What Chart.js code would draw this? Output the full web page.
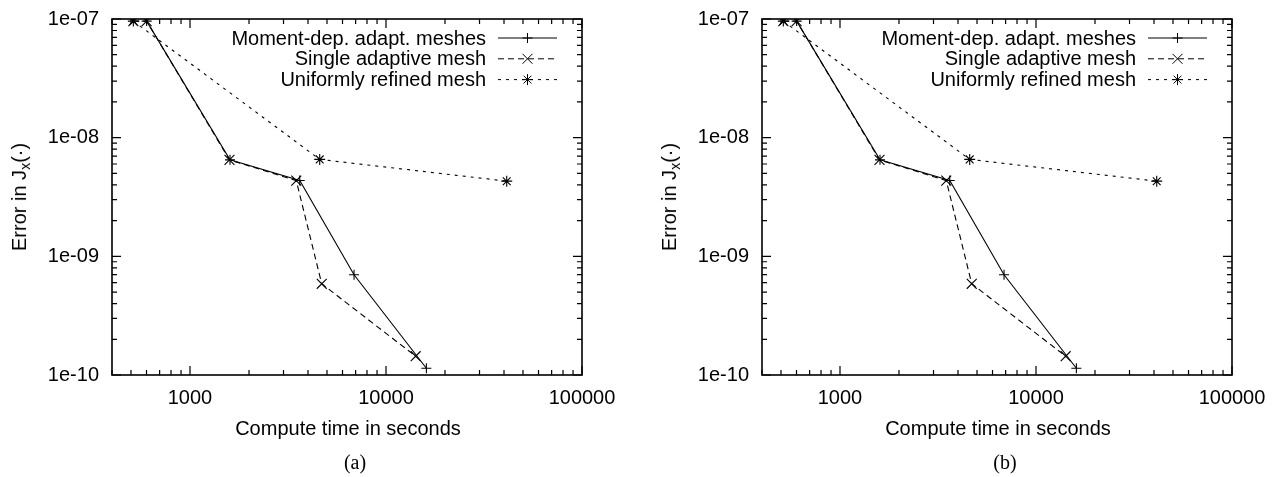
<!DOCTYPE html>
<html>
<head>
<meta charset="utf-8">
<title>Error vs compute time</title>
<script src="https://cdn.jsdelivr.net/npm/chart.js@4.4.1/dist/chart.umd.min.js"></script>
<style>
  body { margin: 0; background: #fff; font-family: 'Liberation Sans', Arial, Helvetica, sans-serif; color: #000; }
  #page { position: relative; width: 1278px; height: 477px; overflow: hidden; background: #fff; }
  .panel { position: absolute; top: 0; width: 628px; height: 477px; }
  .panel canvas { position: absolute; left: 0; top: 0; }
  .ytitle { position: absolute; left: 19px; top: 197px; transform: translate(-50%, -50%) rotate(-90deg); white-space: nowrap; font-size: 20px; line-height: 24px; }
  .ytitle sub { font-size: 14px; vertical-align: -4px; line-height: 0; }
  .xtitle { position: absolute; left: 348px; top: 428px; transform: translate(-50%, -50%); white-space: nowrap; font-size: 20px; line-height: 24px; }
  .caption { position: absolute; left: 355px; top: 462px; transform: translate(-50%, -50%); font-family: 'Liberation Serif', 'Times New Roman', serif; font-size: 20px; line-height: 24px; }
</style>
</head>
<body>
<div id="page"></div>
<script>
// Values (both panels show the same curves)
const seriesNames = ['Moment-dep. adapt. meshes', 'Single adaptive mesh', 'Uniformly refined mesh'];
const momentTime = [601, 1600, 3630, 6870, 16070];
const momentError = [9.6e-8, 6.5e-9, 4.35e-9, 7.0e-10, 1.14e-10];
const singleTime = [514, 601, 1590, 3485, 4700, 14170];
const singleError = [9.6e-8, 9.6e-8, 6.5e-9, 4.35e-9, 5.87e-10, 1.44e-10];
const uniformTime = [514, 4590, 41300];
const uniformError = [9.6e-8, 6.56e-9, 4.3e-9];

const xTickValues = [1000, 10000, 100000];
const xTickLabels = ['1000', '10000', '100000'];
const yTickValues = [1e-10, 1e-9, 1e-8, 1e-7];
const yTickLabels = ['1e-10', '1e-09', '1e-08', '1e-07'];
const panelCaptions = ['(a)', '(b)'];

const FONT = "'Liberation Sans', Arial, Helvetica, sans-serif";

// build {x, y} points from two arrays
function toPoints(xs, ys) {
  return xs.map((v, i) => ({ x: v, y: ys[i] }));
}

// same geometry as Chart.js point styles, used for the legend samples
function drawMarker(ctx, style, r, cx, cy) {
  ctx.beginPath();
  if (style === 'cross' || style === 'star') {
    ctx.moveTo(cx - r, cy); ctx.lineTo(cx + r, cy);
    ctx.moveTo(cx, cy - r); ctx.lineTo(cx, cy + r);
  }
  if (style === 'crossRot' || style === 'star') {
    const o = r * Math.SQRT1_2;
    ctx.moveTo(cx - o, cy - o); ctx.lineTo(cx + o, cy + o);
    ctx.moveTo(cx - o, cy + o); ctx.lineTo(cx + o, cy - o);
  }
  ctx.stroke();
}

// gnuplot style box with inward ticks on all four sides
const frameTicks = {
  id: 'frameTicks',
  beforeDatasetsDraw(chart) {
    const { ctx, chartArea: a, scales: { x, y } } = chart;
    ctx.save();
    ctx.strokeStyle = '#000';
    ctx.lineWidth = 1.2;
    ctx.beginPath();
    for (let e = 2; e <= 5; e++) {
      for (let m = 1; m < 10; m++) {
        const v = m * Math.pow(10, e);
        if (v < x.min * 0.9999 || v > x.max * 1.0001) continue;
        const px = x.getPixelForValue(v);
        const len = m === 1 ? 9 : 5;
        ctx.moveTo(px, a.bottom); ctx.lineTo(px, a.bottom - len);
        ctx.moveTo(px, a.top); ctx.lineTo(px, a.top + len);
      }
    }
    for (let e = -10; e <= -7; e++) {
      for (let m = 1; m < 10; m++) {
        const v = m * Math.pow(10, e);
        if (v < y.min * 0.9999 || v > y.max * 1.0001) continue;
        const py = y.getPixelForValue(v);
        const len = m === 1 ? 9 : 5;
        ctx.moveTo(a.left, py); ctx.lineTo(a.left + len, py);
        ctx.moveTo(a.right, py); ctx.lineTo(a.right - len, py);
      }
    }
    ctx.stroke();
    ctx.lineWidth = 1.6;
    ctx.strokeRect(a.left, a.top, a.right - a.left, a.bottom - a.top);
    ctx.restore();
  }
};

// key in the top right corner: right aligned text, then line sample with marker
const keyBox = {
  id: 'keyBox',
  afterDatasetsDraw(chart) {
    const { ctx, chartArea: a } = chart;
    ctx.save();
    ctx.font = '20px ' + FONT;
    ctx.fillStyle = '#000';
    ctx.textAlign = 'right';
    ctx.textBaseline = 'middle';
    chart.data.datasets.forEach((ds, i) => {
      const yy = a.top + 19 + i * 20.8;
      ctx.fillText(ds.label, a.right - 96, yy + 1);
      ctx.strokeStyle = '#000';
      ctx.lineWidth = 1;
      ctx.setLineDash(ds.borderDash || []);
      ctx.beginPath();
      ctx.moveTo(a.right - 84, yy);
      ctx.lineTo(a.right - 25, yy);
      ctx.stroke();
      ctx.setLineDash([]);
      drawMarker(ctx, ds.pointStyle, ds.pointRadius, a.right - 54.5, yy);
    });
    ctx.restore();
  }
};

function makePanel(idx) {
  const page = document.getElementById('page');
  const panel = document.createElement('div');
  panel.className = 'panel';
  panel.style.left = (idx * 650) + 'px';
  panel.innerHTML =
    '<canvas width="628" height="477"></canvas>' +
    '<div class="ytitle">Error in J<sub>x</sub>(·)</div>' +
    '<div class="xtitle">Compute time in seconds</div>' +
    '<div class="caption">' + panelCaptions[idx] + '</div>';
  page.appendChild(panel);
  const canvas = panel.querySelector('canvas');

  return new Chart(canvas.getContext('2d'), {
    type: 'line',
    data: {
      datasets: [{
        label: seriesNames[0],
        data: toPoints(momentTime, momentError),
        borderColor: '#000',
        borderWidth: 1.1,
        pointStyle: 'cross',
        pointRadius: 5,
        pointBorderColor: '#000',
        pointBorderWidth: 1.1,
        fill: false,
        tension: 0
      }, {
        label: seriesNames[1],
        data: toPoints(singleTime, singleError),
        borderColor: '#000',
        borderWidth: 1.1,
        borderDash: [6, 4],
        pointStyle: 'crossRot',
        pointRadius: 7,
        pointBorderColor: '#000',
        pointBorderWidth: 1.1,
        fill: false,
        tension: 0
      }, {
        label: seriesNames[2],
        data: toPoints(uniformTime, uniformError),
        borderColor: '#000',
        borderWidth: 1.1,
        borderDash: [3, 5],
        pointStyle: 'star',
        pointRadius: 5.5,
        pointBorderColor: '#000',
        pointBorderWidth: 1.1,
        fill: false,
        tension: 0
      }]
    },
    options: {
      responsive: false,
      devicePixelRatio: 1,
      animation: false,
      events: [],
      layout: { padding: { left: 0, right: 46, top: 19, bottom: 0 } },
      plugins: {
        legend: { display: false },
        tooltip: { enabled: false }
      },
      scales: {
        x: {
          type: 'logarithmic',
          min: 400,
          max: 100000,
          grid: { display: false, drawTicks: false },
          border: { display: false },
          afterBuildTicks: (scale) => { scale.ticks = xTickValues.map(v => ({ value: v })); },
          afterFit: (scale) => {
            scale.height = 102;
            scale.paddingLeft = 0;
            scale.paddingRight = 0;
          },
          ticks: {
            autoSkip: false,
            maxRotation: 0,
            padding: 11,
            color: '#000',
            font: { family: FONT, size: 20 },
            callback: (v, i) => xTickLabels[i]
          }
        },
        y: {
          type: 'logarithmic',
          min: 1e-10,
          max: 1e-7,
          grid: { display: false, drawTicks: false },
          border: { display: false },
          afterBuildTicks: (scale) => { scale.ticks = yTickValues.map(v => ({ value: v })); },
          afterFit: (scale) => {
            scale.width = 112;
            scale.paddingTop = 0;
            scale.paddingBottom = 0;
          },
          ticks: {
            autoSkip: false,
            padding: 13,
            color: '#000',
            font: { family: FONT, size: 20 },
            callback: (v, i) => yTickLabels[i]
          }
        }
      }
    },
    plugins: [frameTicks, keyBox]
  });
}

panelCaptions.forEach((c, i) => makePanel(i));
</script>
</body>
</html>
